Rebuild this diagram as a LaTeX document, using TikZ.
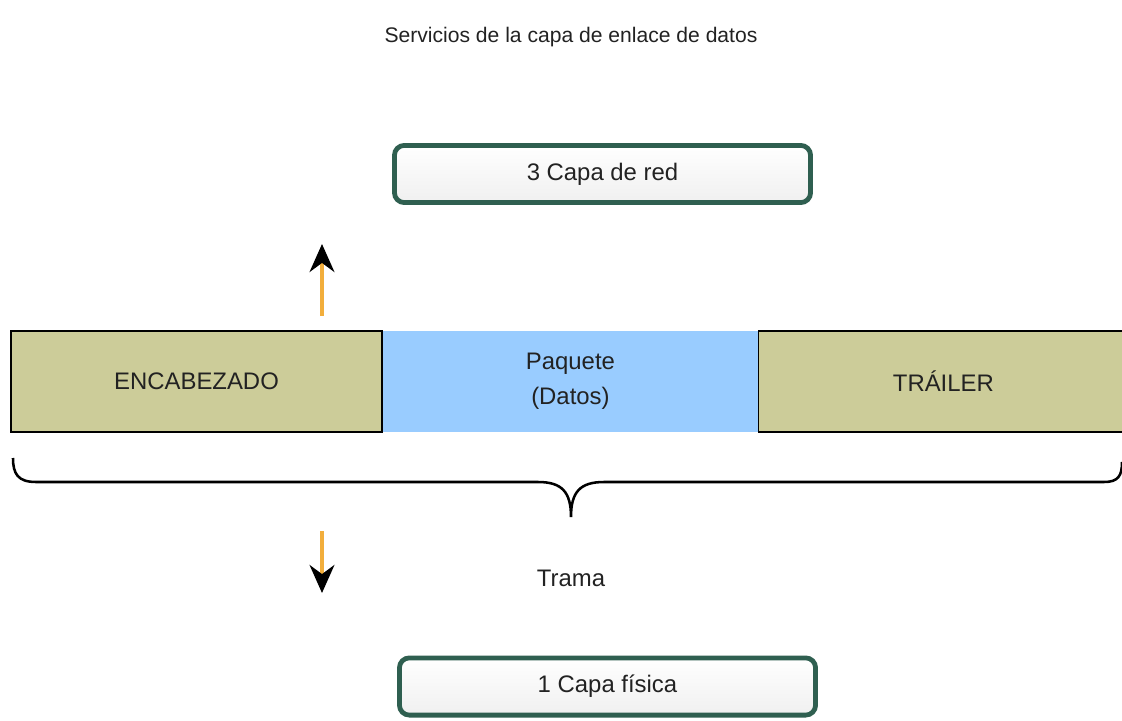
\documentclass[tikz,border=0pt]{standalone}
\usepackage{fontspec}
\setmainfont{Liberation Sans}
\usetikzlibrary{positioning,arrows.meta}
\definecolor{capaverde}{HTML}{2F5F50}
\definecolor{caqui}{HTML}{CCCC99}
\definecolor{azulpaq}{HTML}{99CCFF}
\definecolor{naranja}{HTML}{F2AE3C}
\definecolor{texto}{HTML}{222222}
\tikzset{
  capa/.style={rectangle, draw=capaverde, line width=3.4pt, rounded corners=7pt,
    top color=white, bottom color=gray!12, text=texto, text centered,
    minimum width=10.4cm, minimum height=1.43cm, font=\fontsize{17}{20}\selectfont},
  campo/.style={rectangle, text=texto, text centered, minimum height=2.525cm, inner sep=0pt,
    font=\fontsize{17}{25}\selectfont},
  flecha/.style={naranja, line width=2.6pt, -{Stealth[black, length=0.7cm, width=0.62cm]}}
}
\begin{document}
\begin{tikzpicture}[x=0.025cm, y=-0.025cm, node distance=0pt]
	\useasboundingbox (0,0) rectangle (1122,721);
	\node (titulo) [text=texto] at (571,37) {\fontsize{15}{18}\selectfont Servicios de la capa de enlace de datos};
	
	\node (red) [capa] at (602.5,174) {3 Capa de red};
	\node (fisica) [capa] at (607.5,686.5) {1 Capa física};
	
	% trama
	\node (encab) [campo, fill=caqui, draw, thick, minimum width=9.275cm] at (196.5,381.5) {ENCABEZADO};
	\node (paquete) [campo, fill=azulpaq, right=of encab, minimum width=9.375cm, align=center] {Paquete\\(Datos)};
	\node (trailer) [campo, fill=caqui, draw, thick, right=of paquete, minimum width=9.225cm] {TRÁILER};
	
	\draw[line width=1.8pt] (13,458) .. controls (13,474) and (18,482) .. (36,482)
		-- (538,482) .. controls (562,482) and (571,492) .. (571,517)
		.. controls (571,492) and (580,482) .. (604,482)
		-- (1104,482) .. controls (1118,482) and (1122,476) .. (1122,462);
	\node (trama) [text=texto] at (571,578) {\fontsize{17}{20}\selectfont Trama};
	
	\coordinate (arriba0) at (322,316);
	\coordinate (arriba1) at (322,244);
	\coordinate (abajo0) at (322,531);
	\coordinate (abajo1) at (322,593);
	\draw[flecha] (arriba0) -- (arriba1);
	\draw[flecha] (abajo0) -- (abajo1);
\end{tikzpicture}
\end{document}
